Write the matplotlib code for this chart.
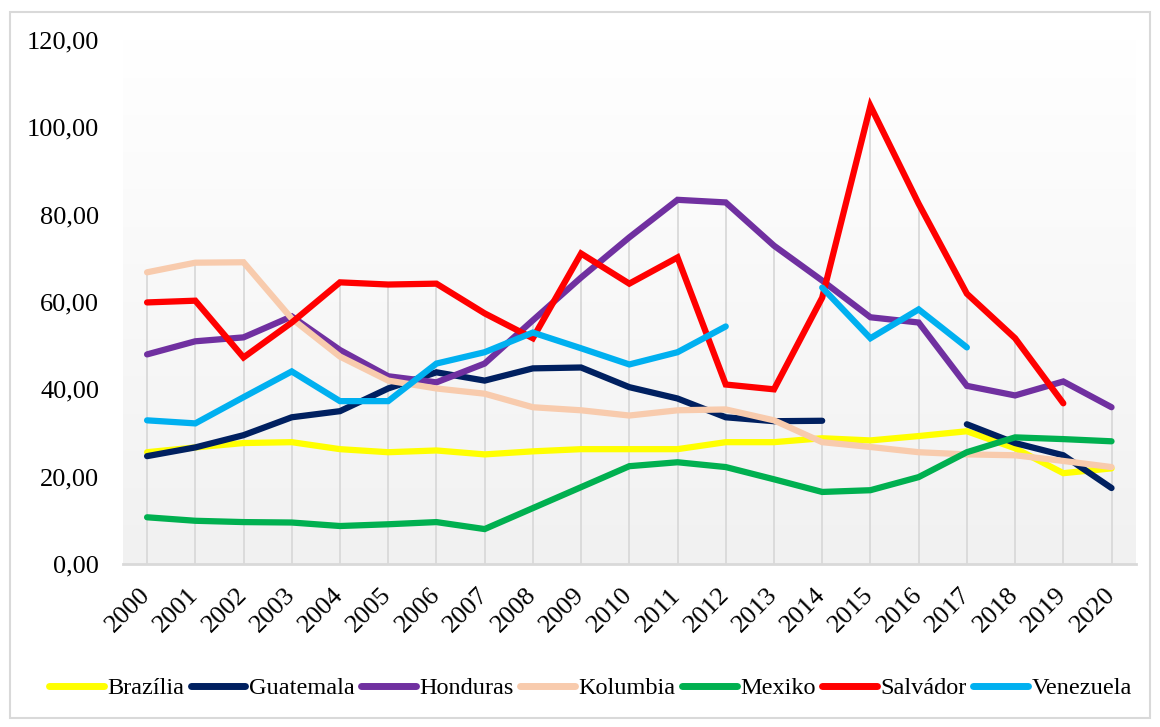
import numpy as np
import matplotlib
matplotlib.use('Agg')
import matplotlib.pyplot as plt
import matplotlib.patheffects as pe
from matplotlib.patches import Rectangle
from matplotlib.ticker import FuncFormatter

plt.rcParams['font.family'] = ['Liberation Serif', 'DejaVu Serif']

nan = np.nan
years = list(range(2000, 2021))

brazilia = [25.6, 26.7, 27.7, 27.9, 26.3, 25.6, 26.0, 25.1, 25.8, 26.3, 26.3,
            26.3, 27.9, 27.9, 28.8, 28.3, 29.3, 30.4, 26.5, 20.8, 21.9]
guatemala = [24.7, 26.7, 29.5, 33.6, 35.0, 40.2, 43.9, 42.0, 44.8, 45.0, 40.5,
             37.9, 33.6, 32.7, 32.8, nan, nan, 32.0, 27.7, 24.9, 17.4]
honduras = [48.0, 51.0, 51.9, 56.7, 49.0, 43.0, 41.6, 45.9, 55.8, 65.6, 74.8,
            83.4, 82.8, 72.9, 64.9, 56.5, 55.3, 40.8, 38.6, 41.8, 35.9]
kolumbia = [66.8, 69.0, 69.1, 56.2, 47.5, 42.0, 40.2, 39.0, 35.9, 35.2, 34.0,
            35.2, 35.4, 32.9, 27.9, 26.8, 25.6, 25.1, 24.9, 23.6, 22.2]
mexiko = [10.7, 9.9, 9.6, 9.5, 8.7, 9.1, 9.6, 8.0, 12.8, 17.6, 22.4,
          23.3, 22.2, 19.4, 16.5, 16.9, 19.9, 25.6, 29.0, 28.6, 28.1]
salvador = [59.9, 60.3, 47.3, 55.3, 64.5, 64.0, 64.2, 57.4, 51.7, 71.1, 64.2,
            70.2, 41.1, 40.0, 61.0, 104.9, 82.5, 61.9, 51.7, 36.8, nan]
venezuela = [32.9, 32.2, 38.2, 44.1, 37.3, 37.3, 45.9, 48.5, 53.0, 49.4, 45.7,
             48.5, 54.4, nan, 63.3, 51.7, 58.3, 49.6, nan, nan, nan]

series = [
    ('Brazília', brazilia, '#FFFF00'),
    ('Guatemala', guatemala, '#002060'),
    ('Honduras', honduras, '#7030A0'),
    ('Kolumbia', kolumbia, '#F8CBAD'),
    ('Mexiko', mexiko, '#00B050'),
    ('Salvádor', salvador, '#FF0000'),
    ('Venezuela', venezuela, '#00B0F0'),
]

fig = plt.figure(figsize=(11.6, 7.27), dpi=100)
ax = fig.add_axes([0.106, 0.2242, 0.873, 0.7208])

# outer chart frame
fig.patches.append(Rectangle((10 / 1160, 1 - 718 / 727), 1140 / 1160, 706 / 727,
                             transform=fig.transFigure, fill=False,
                             edgecolor='#d9d9d9', linewidth=1.5, zorder=0))

x = np.arange(len(years))
ax.set_xlim(-0.5, len(years) - 0.5)
ax.set_ylim(0, 120)

# plot area gradient: white on top, light grey at the bottom
grad = np.linspace(0, 1, 256).reshape(-1, 1)
cmap = matplotlib.colors.LinearSegmentedColormap.from_list('bg', ['#f1f1f1', '#ffffff'])
ax.imshow(grad, extent=[-0.5, len(years) - 0.5, 0, 120], origin='lower',
          aspect='auto', cmap=cmap, zorder=0)

# drop lines from the highest value of each year down to the axis
tops = np.nanmax(np.array([s[1] for s in series], dtype=float), axis=0)
ax.vlines(x, 0, tops, color='#d9d9d9', linewidth=1.3, zorder=1)

shadow = [pe.SimpleLineShadow(offset=(2.5, -2.5), shadow_color='#7f7f7f', alpha=0.12, linewidth=7.5),
          pe.SimpleLineShadow(offset=(2, -2), shadow_color='#7f7f7f', alpha=0.25),
          pe.Normal()]

for name, vals, col in series:
    ax.plot(x, vals, color=col, linewidth=4.5, solid_capstyle='round',
            solid_joinstyle='miter', label=name, zorder=3, path_effects=shadow)

for s in ['top', 'left', 'right']:
    ax.spines[s].set_visible(False)
ax.spines['bottom'].set_color('#d9d9d9')
ax.spines['bottom'].set_linewidth(2)

ax.set_yticks(np.arange(0, 121, 20))
ax.yaxis.set_major_formatter(FuncFormatter(lambda v, p: f'{v:.2f}'.replace('.', ',')))
ax.tick_params(axis='y', length=0, pad=17, labelsize=19)
ax.set_xticks(x)
ax.set_xticklabels([str(y) for y in years], rotation=45, ha='right',
                   va='center', rotation_mode='anchor')
ax.tick_params(axis='x', length=0, pad=20, labelsize=19)

handles, labels = ax.get_legend_handles_labels()
for h in handles:
    h.set_path_effects([])
leg = fig.legend(handles, labels, loc='center', bbox_to_anchor=(0.509, 0.053),
                 ncol=7, frameon=False, fontsize=17.5, handlelength=2.25,
                 handletextpad=0.15, columnspacing=0.26)
for line in leg.get_lines():
    line.set_linewidth(5)
    line.set_solid_capstyle('round')

fig.savefig('out.png', dpi=100)
